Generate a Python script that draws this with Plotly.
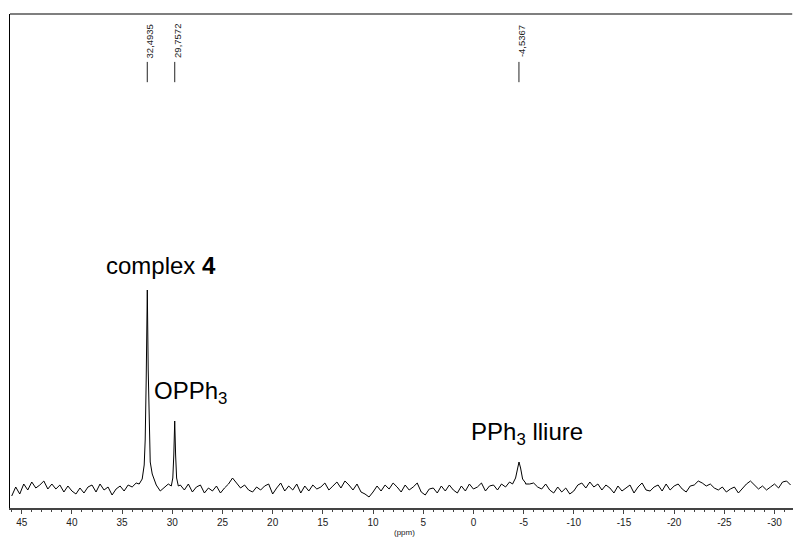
import numpy as np
import plotly.graph_objects as go

# ---- data (intensity in arbitrary units, baseline ~0) ----
noise_start, noise_step = 46.0, -0.4
noise_vals = [
    -6, 3, -4, 6, 0, 8, 2, 5, 9, 1,
    6, 1, 5, -2, 4, -1, -4, 2, -3, 3,
    5, -2, 6, 0, 3, -5, 1, 4, -1, 5,
    3, 7, 5, 7, 6, 8, 10, -1, 3, 6,
    4, 4, 5, 0, 6, -2, 3, 5, -3, 2,
    -1, 4, -3, 2, 6, 12, 7, 2, 5, 0,
    -2, 3, 0, 4, 6, -4, 2, 7, -1, 4,
    0, 6, -3, 4, -1, 5, 1, 3, 7, 0,
    4, 8, 2, 9, 5, 0, 6, -2, -4, -7,
    -2, 4, -1, 5, 1, 7, 3, -2, 5, 0,
    3, 7, -2, -5, 1, 2, -3, 4, -1, 5,
    0, -3, 4, -1, 6, 1, 3, 7, -1, 4,
    5, 0, 6, 3, 8, 6, 6, 6, 6, 6,
    7, 3, 1, 6, 0, -3, 3, -2, 2, -4,
    -1, 5, 7, 2, 8, 3, 6, 0, 5, 2,
    -3, 4, -1, 2, 5, -3, 3, 7, 0, -1,
    3, 5, -1, 6, 0, 4, 6, 1, -2, 4,
    5, 9, 7, 4, 6, 2, 0, 3, -2, 1,
    3, -3, 2, 6, 9, 5, 1, 4, 0, 3,
    6, 2, 8, 9, 5,
]

peak1_ppm = [33.3, 33.0, 32.8, 32.7, 32.6, 32.49, 32.4, 32.3, 32.2, 32.0, 31.8, 31.6]
peak1_int = [6, 11, 25, 50, 110, 200, 120, 55, 28, 16, 10, 5]
peak2_ppm = [30.1, 29.95, 29.85, 29.76, 29.67, 29.57, 29.4]
peak2_int = [4, 12, 35, 69, 35, 12, 4]
peak3_ppm = [-3.9, -4.2, -4.4, -4.54, -4.7, -4.9, -5.2]
peak3_int = [6, 12, 24, 28, 22, 11, 7]

peak_labels_ppm = [32.4935, 29.7572, -4.5367]
peak_labels_txt = ["32,4935", "29,7572", "-4,5367"]

tick_vals = [45, 40, 35, 30, 25, 20, 15, 10, 5, 0, -5, -10, -15, -20, -25, -30]

# ---- assemble trace ----
noise_ppm = noise_start + noise_step * np.arange(len(noise_vals))
windows = [(min(p), max(p)) for p in (peak1_ppm, peak2_ppm, peak3_ppm)]
pts = []
for p, v in zip(noise_ppm, noise_vals):
    if not any(lo <= p <= hi for lo, hi in windows):
        pts.append((p, v))
for pp, ii in ((peak1_ppm, peak1_int), (peak2_ppm, peak2_int), (peak3_ppm, peak3_int)):
    pts += list(zip(pp, ii))
pts.sort(key=lambda t: -t[0])
xs = [p for p, _ in pts]
ys = [v for _, v in pts]

fig = go.Figure()
fig.add_trace(go.Scatter(x=xs, y=ys, mode="lines",
                         line=dict(color="black", width=1), hoverinfo="skip"))

FONT = "Liberation Sans, Arial, sans-serif"

annotations = []
shapes = []
for p, t in zip(peak_labels_ppm, peak_labels_txt):
    shapes.append(dict(type="line", xref="x", yref="paper", x0=p, x1=p,
                       y0=0.862, y1=0.903, line=dict(color="#222", width=1)))
    annotations.append(dict(x=p, y=0.945, xref="x", yref="paper", text=t,
                            textangle=-90, showarrow=False, xshift=2,
                            xanchor="center", yanchor="middle",
                            font=dict(family=FONT, size=9.5, color="#222")))

# top border
shapes.append(dict(type="line", xref="paper", yref="paper", x0=0, x1=0.999,
                   y0=1, y1=1, line=dict(color="#555", width=1.5)))

annotations += [
    dict(x=31.1, y=225, xref="x", yref="y", text="complex <b>4</b>", showarrow=False,
         xanchor="center", yanchor="middle", font=dict(family=FONT, size=24, color="black")),
    dict(x=32.04, y=98, xref="x", yref="y", text="OPPh<sub>3</sub>", showarrow=False,
         xanchor="left", yanchor="middle", font=dict(family=FONT, size=24, color="black")),
    dict(x=0.4, y=57, xref="x", yref="y", text="PPh<sub>3</sub> lliure", showarrow=False,
         xanchor="left", yanchor="middle", font=dict(family=FONT, size=24, color="black")),
    dict(x=0.504, y=-0.049, xref="paper", yref="paper", text="(ppm)", showarrow=False,
         xanchor="center", yanchor="middle", font=dict(family=FONT, size=8, color="#222")),
]

fig.update_layout(
    width=794, height=537,
    margin=dict(l=10, r=1, t=14, b=29),
    paper_bgcolor="white", plot_bgcolor="white",
    showlegend=False,
    shapes=shapes, annotations=annotations,
    xaxis=dict(range=[46.17, -31.84], tickvals=tick_vals,
               ticktext=[str(v) for v in tick_vals],
               ticks="outside", ticklen=4, tickcolor="#444", tickwidth=1,
               minor=dict(dtick=1, ticks="outside", ticklen=2, tickcolor="#444"),
               showline=True, linecolor="#444", linewidth=1.5,
               showgrid=False, zeroline=False,
               tickfont=dict(family=FONT, size=10, color="#222")),
    yaxis=dict(range=[-18, 476], showline=True, linecolor="black", linewidth=1,
               showticklabels=False, ticks="", showgrid=False, zeroline=False),
)

fig.write_html("out.html", config={"displayModeBar": False},
               post_script="document.body.style.margin='0';document.body.style.overflow='hidden';")
